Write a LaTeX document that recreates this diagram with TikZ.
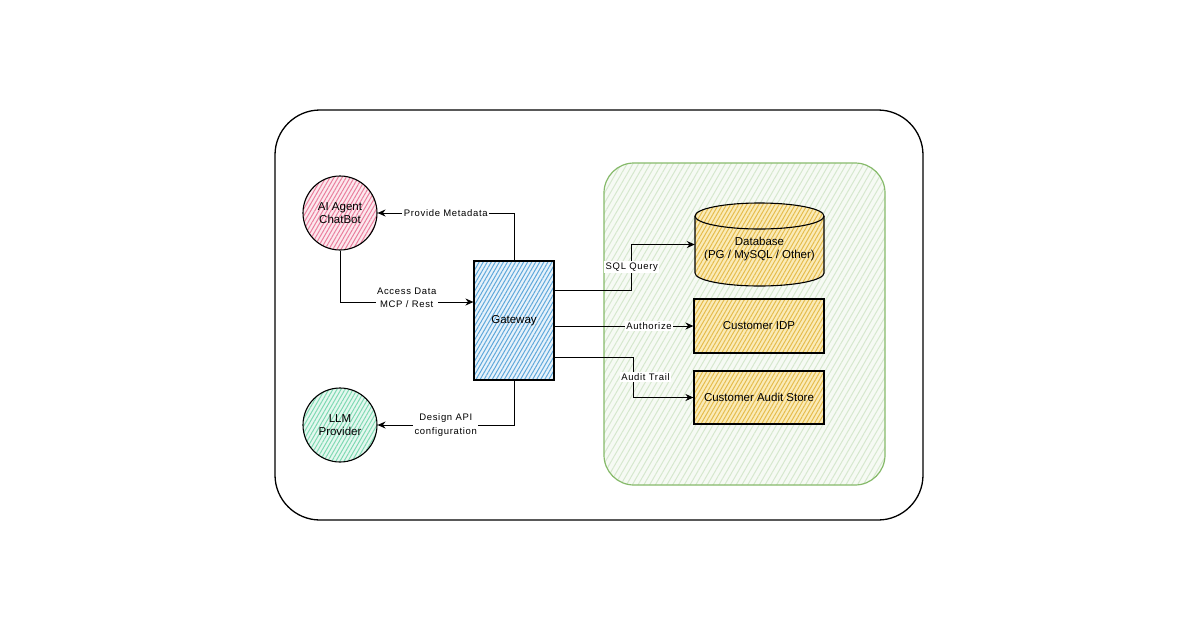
\documentclass[tikz,border=0pt]{standalone}
\usepackage{fontspec}
\setmainfont{Liberation Sans}
\usetikzlibrary{arrows.meta,patterns.meta,calc}
\definecolor{pinkh}{HTML}{EA7F9D}
\definecolor{pinkbg}{HTML}{FCE8EE}
\definecolor{blueh}{HTML}{5FA8DA}
\definecolor{bluebg}{HTML}{E6F2FB}
\definecolor{minth}{HTML}{7FD9B3}
\definecolor{mintbg}{HTML}{E4F8EF}
\definecolor{yelh}{HTML}{E6BC4C}
\definecolor{yelbg}{HTML}{FAEBB8}
\definecolor{grnh}{HTML}{D6E8CE}
\definecolor{grnbg}{HTML}{F6FAF4}
\definecolor{grnline}{HTML}{86BA6A}
\tikzset{
  hatched/.style n args={3}{preaction={fill=#2}, preaction={pattern={Lines[angle=60,distance=#3,line width=1pt]}, pattern color=#1}},
  roundnode/.style={circle, draw=black, line width=1.1pt, minimum size=74pt, inner sep=0pt, align=center, font=\fontsize{11.5}{13}\selectfont},
  boxnode/.style={rectangle, draw=black, line width=1.1pt, align=center, font=\fontsize{11.5}{13}\selectfont},
  arr/.style={draw=black, line width=1pt, -{Stealth[length=8pt,width=7pt]}},
  elabel/.style={fill=white, inner sep=1.5pt, align=center, font=\fontsize{9.5}{13.5}\selectfont\addfontfeatures{LetterSpace=7}},
}
\begin{document}
\begin{tikzpicture}[x=1pt,y=-1pt]
\useasboundingbox (0,0) rectangle (1200,630);
\fill[white] (0,0) rectangle (1200,630);
% outer container
\draw[black, line width=1.3pt, rounded corners=45pt] (275,110) rectangle (923,520);
% green zone
\path[hatched={grnh}{grnbg}{5pt}, rounded corners=30pt] (604,163) rectangle (885,485);
\draw[grnline, line width=1.2pt, rounded corners=30pt] (604,163) rectangle (885,485);
% nodes
\node[roundnode, hatched={pinkh}{pinkbg}{3.5pt}] (agent) at (340,213) {AI Agent\\ChatBot};
\node[roundnode, hatched={minth}{mintbg}{3.5pt}] (llm) at (340,425) {LLM\\Provider};
\node[boxnode, hatched={blueh}{bluebg}{3.5pt}, minimum width=80pt, minimum height=119pt] (gw) at (514,320.5) {Gateway};
% database cylinder
\path[hatched={yelh}{yelbg}{3.5pt}] (695,216) -- (695,273) arc[start angle=180,end angle=360,x radius=64.5pt,y radius=13pt] -- (824,216) arc[start angle=0,end angle=180,x radius=64.5pt,y radius=13pt] -- cycle;
\draw[black, line width=1.1pt] (695,216) -- (695,273) arc[start angle=180,end angle=360,x radius=64.5pt,y radius=13pt] -- (824,216) arc[start angle=0,end angle=180,x radius=64.5pt,y radius=13pt] -- cycle;
\draw[black, line width=1.1pt] (695,216) arc[start angle=180,end angle=360,x radius=64.5pt,y radius=13pt];
\node[rectangle, minimum width=129pt, minimum height=83pt, inner sep=0pt, align=center, font=\fontsize{11.5}{13.5}\selectfont] (db) at (759.5,244.5) {\\[4pt]Database\\(PG / MySQL / Other)};
\node[boxnode, hatched={yelh}{yelbg}{3.5pt}, minimum width=130pt, minimum height=54pt] (idp) at (759,326) {Customer IDP};
\node[boxnode, hatched={yelh}{yelbg}{3.5pt}, minimum width=130pt, minimum height=53pt] (audit) at (759,397.5) {Customer Audit Store};
% connectors
\draw[arr] (gw.north) |- node[elabel, pos=0.75] {Provide Metadata} (agent.east);
\draw[arr] (agent.south) |- node[elabel, pos=0.75, yshift=4pt] {Access Data\\MCP / Rest} ([yshift=18.5pt]gw.west);
\draw[arr] (gw.south) |- node[elabel, pos=0.75] {Design API\\configuration} (llm.east);
\draw[arr] ([yshift=30.5pt]gw.east) -| node[elabel, pos=0.75] {SQL Query} ([xshift=-63pt]db.west) -- (db.west);
\draw[arr] (gw.east|-idp.west) -- node[elabel, pos=0.68] {Authorize} (idp.west);
\draw[arr] ([yshift=-36.5pt]gw.east) -| node[elabel, pos=0.75, xshift=12pt] {Audit Trail} ([xshift=-60pt]audit.west) -- (audit.west);
\end{tikzpicture}
\end{document}
